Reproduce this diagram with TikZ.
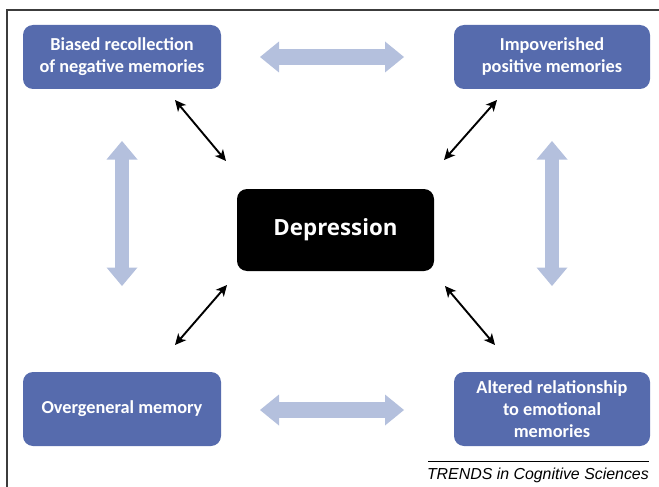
\documentclass[tikz,border=0pt]{standalone}
\usepackage{fontspec}
\setmainfont{Carlito}
\newfontfamily\depfont{Open Sans}
\newfontfamily\trendsfont{Liberation Sans}
\usetikzlibrary{arrows.meta}
\definecolor{boxblue}{RGB}{86,107,173}
\definecolor{fatblue}{RGB}{180,192,221}
\definecolor{framegray}{RGB}{60,60,60}
\tikzset{
  membox/.style={rectangle, rounded corners=10, fill=boxblue, draw=none,
    text=white, font=\fontsize{18.3}{22}\selectfont\bfseries, align=center,
    inner sep=0},
  depbox/.style={rectangle, rounded corners=10, fill=black, draw=none,
    text=white, font=\depfont\fontsize{22.3}{26}\selectfont\bfseries, inner sep=0},
  blackarrow/.style={line width=1.9, {Stealth[length=11,width=10.5,inset=3]}-{Stealth[length=11,width=10.5,inset=3]}},
  pics/fath/.style={code={
    \fill[fatblue] (-72,0) -- (-53,-15.5) -- (-53,-7.8) -- (53,-7.8) -- (53,-15.5)
      -- (72,0) -- (53,15.5) -- (53,7.8) -- (-53,7.8) -- (-53,15.5) -- cycle;}},
  pics/fatv/.style={code={
    \fill[fatblue] (0,-72.5) -- (-15.5,-54) -- (-6.8,-54) -- (-6.8,54) -- (-15.5,54)
      -- (0,72.5) -- (15.5,54) -- (6.8,54) -- (6.8,-54) -- (15.5,-54) -- cycle;}},
}
\begin{document}
\begin{tikzpicture}[x=1pt,y=-1pt]
\useasboundingbox (0,0) rectangle (659,487);
% frame
\draw[framegray, line width=1.2] (7,487) -- (7,10) -- (659,10);
% boxes
\node[membox, minimum width=198, minimum height=64] (tl) at (122,57)
  {Biased recollection\\of negative memories};
\node[membox, minimum width=196, minimum height=64] (tr) at (552,57)
  {Impoverished\\positive memories};
\node[membox, minimum width=198, minimum height=74] (bl) at (122,409)
  {Overgeneral memory};
\node[membox, minimum width=196, minimum height=74] (br) at (552,409)
  {Altered relationship\\to emotional\\memories};
\node[depbox, minimum width=197, minimum height=82] (dep) at (335.5,230)
  {Depression};
% fat arrows
\pic at (332,57) {fath};
\pic at (332,410) {fath};
\pic at (122,213.5) {fatv};
\pic at (552,213.5) {fatv};
% black arrow ends
\coordinate (a1) at (175,100);
\coordinate (a2) at (226,161);
\coordinate (b1) at (497,100);
\coordinate (b2) at (444,160);
\coordinate (c1) at (227,285);
\coordinate (c2) at (175,345);
\coordinate (d1) at (445,286);
\coordinate (d2) at (495,345);
\draw[blackarrow] (a1) -- (a2);
\draw[blackarrow] (b1) -- (b2);
\draw[blackarrow] (c1) -- (c2);
\draw[blackarrow] (d1) -- (d2);
% caption
\coordinate (r1) at (428,461);
\coordinate (r2) at (649,461);
\draw[black, line width=0.7] (r1) -- (r2);
\node[anchor=east, inner sep=0, font=\trendsfont\itshape\fontsize{15.9}{17}\selectfont] (cap) at (649,475)
  {TRENDS in Cognitive Sciences};
\end{tikzpicture}
\end{document}
